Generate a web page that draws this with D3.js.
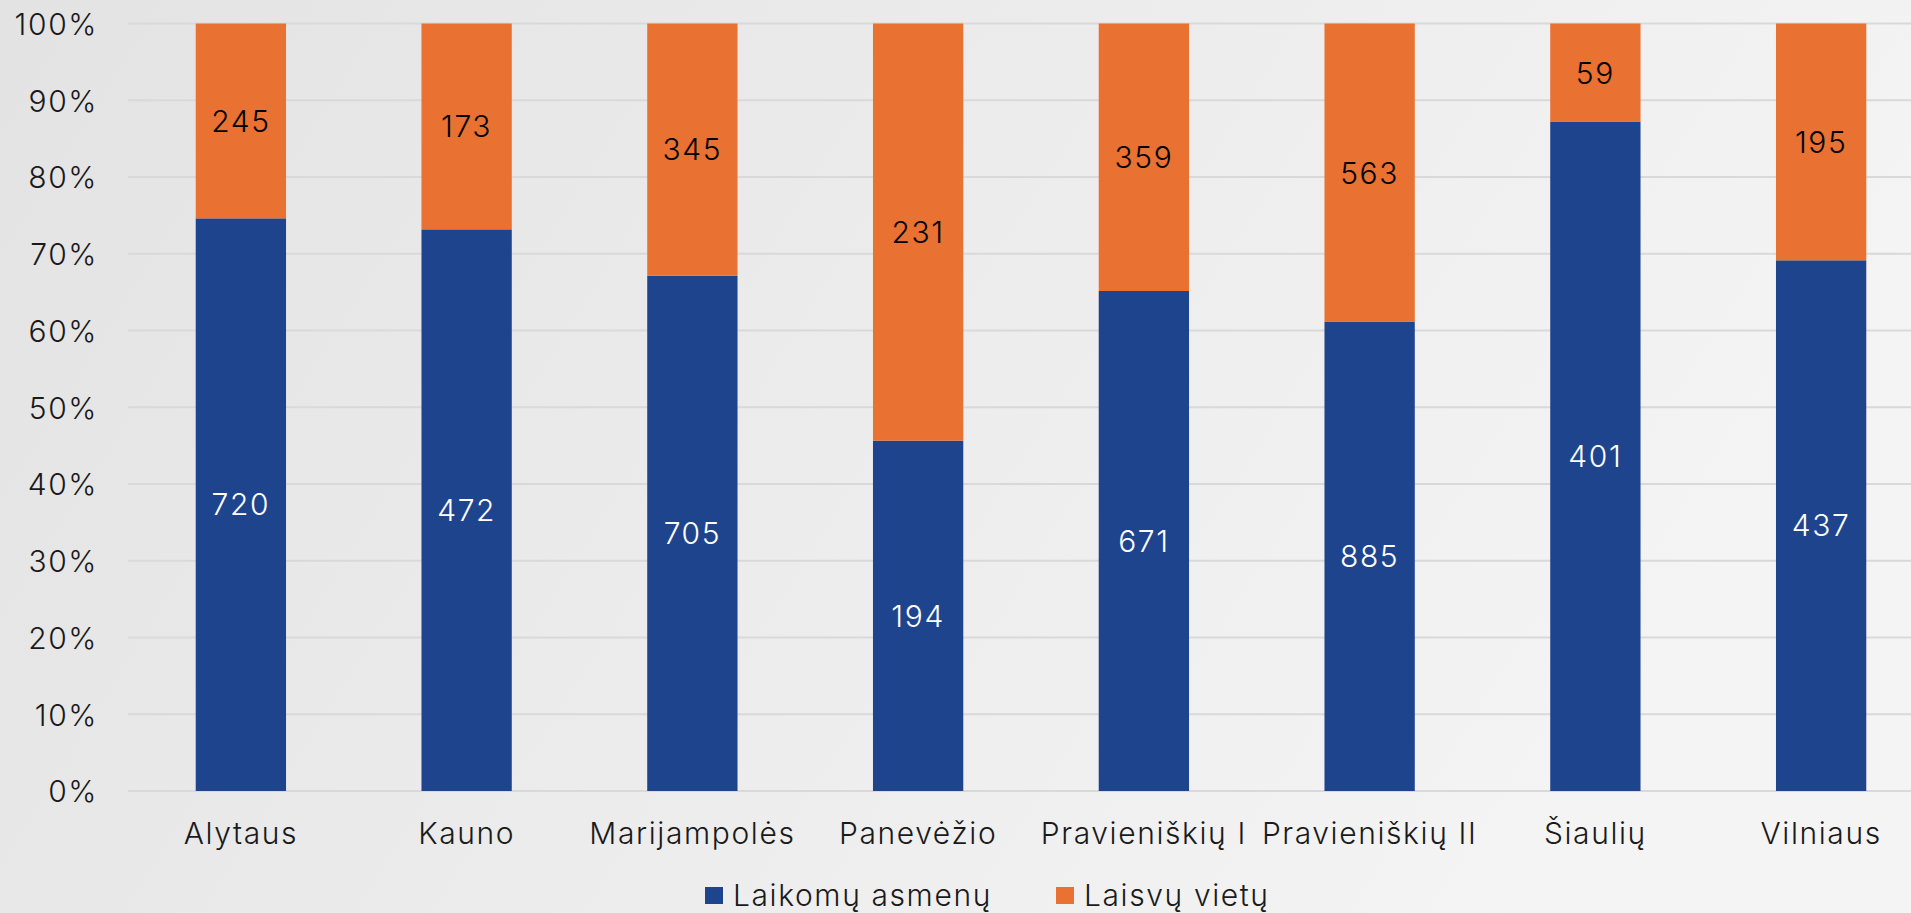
<!DOCTYPE html>
<html><head><meta charset="utf-8">
<script src="https://cdn.jsdelivr.net/npm/d3@7"></script>
<style>
html,body{margin:0;padding:0;overflow:hidden;}
svg{display:block;}
</style></head>
<body>
<svg id="chart" width="1911" height="913"></svg>
<script>
const categories = ["Alytaus","Kauno","Marijampolės","Panevėžio","Pravieniškių I","Pravieniškių II","Šiaulių","Vilniaus"];
const heldPersons = [720,472,705,194,671,885,401,437];
const freePlaces = [245,173,345,231,359,563,59,195];
const seriesNames = ["Laikomų asmenų","Laisvų vietų"];
const tickValues = [0,0.1,0.2,0.3,0.4,0.5,0.6,0.7,0.8,0.9,1];

(function(){
const W = 1911, H = 913;
const FONT = "Inter, 'Noto Sans', sans-serif";
const FS = 30, LS = 1.6;
const colors = ["#1f448e","#e97132"];
const svg = d3.select("#chart").attr("font-family", FONT);

const defs = svg.append("defs");
const grad = defs.append("linearGradient").attr("id","bg").attr("x1","0").attr("y1","0").attr("x2","1").attr("y2","0.3");
grad.append("stop").attr("offset","0").attr("stop-color","#e3e3e3");
grad.append("stop").attr("offset","1").attr("stop-color","#f4f4f4");
svg.append("rect").attr("width",W).attr("height",H).attr("fill","url(#bg)");

const plotTop = 23.5, plotBottom = 791, plotLeft = 128;
const x = d3.scaleBand().domain(categories).range([plotLeft, 1934]).paddingInner(0.6).paddingOuter(0.3);
const y = d3.scaleLinear().domain([0,1]).range([plotBottom, plotTop]);

svg.append("g").selectAll("line").data(tickValues).join("line")
  .attr("x1", plotLeft).attr("x2", W)
  .attr("y1", d => y(d)).attr("y2", d => y(d))
  .attr("stroke","#d9d9d9").attr("stroke-width",2);

const yAxis = d3.axisLeft(y).tickValues(tickValues).tickFormat(d3.format(".0%")).tickSize(0).tickPadding(0);
const ya = svg.append("g").attr("transform",`translate(98,0)`).call(yAxis).attr("font-family", FONT);
ya.select(".domain").remove();
ya.selectAll("text").attr("font-size",FS).attr("font-weight",300).attr("letter-spacing",LS).attr("fill","#1a1a1a").attr("dy","0.36em");

const data = categories.map((c,i)=>({cat:c, a:heldPersons[i], b:freePlaces[i], t:heldPersons[i]+freePlaces[i]}));

const g = svg.append("g");
data.forEach(d=>{
  const pa = d.a/d.t;
  g.append("rect").attr("x",x(d.cat)).attr("width",x.bandwidth())
    .attr("y",y(pa)).attr("height",y(0)-y(pa)).attr("fill",colors[0]);
  g.append("rect").attr("x",x(d.cat)).attr("width",x.bandwidth())
    .attr("y",y(1)).attr("height",y(pa)-y(1)).attr("fill",colors[1]);
  const cx = x(d.cat)+x.bandwidth()/2;
  g.append("text").attr("x",cx).attr("y",y(pa/2)).attr("dy","0.36em")
    .attr("text-anchor","middle").attr("font-size",FS).attr("font-weight",300).attr("letter-spacing",LS).attr("fill","#ffffff").text(d.a);
  g.append("text").attr("x",cx).attr("y",y((1+pa)/2)).attr("dy","0.36em")
    .attr("text-anchor","middle").attr("font-size",FS).attr("font-weight",300).attr("letter-spacing",LS).attr("fill","#000000").text(d.b);
});

const xAxis = d3.axisBottom(x).tickSize(0).tickPadding(0);
const xa = svg.append("g").attr("transform",`translate(0,${plotBottom})`).call(xAxis).attr("font-family", FONT);
xa.select(".domain").remove();
xa.selectAll("text").attr("font-size",FS).attr("font-weight",300).attr("letter-spacing",LS).attr("fill","#1a1a1a").attr("dy",null).attr("y",53);

const legend = svg.append("g");
const lx = [705, 1056];
seriesNames.forEach((n,i)=>{
  legend.append("rect").attr("x",lx[i]).attr("y",887).attr("width",18).attr("height",17).attr("fill",colors[i]);
  legend.append("text").attr("x",lx[i]+28).attr("y",906).attr("font-size",FS).attr("font-weight",300).attr("letter-spacing",LS).attr("fill","#1a1a1a").text(n);
});
})();
</script>
</body></html>
